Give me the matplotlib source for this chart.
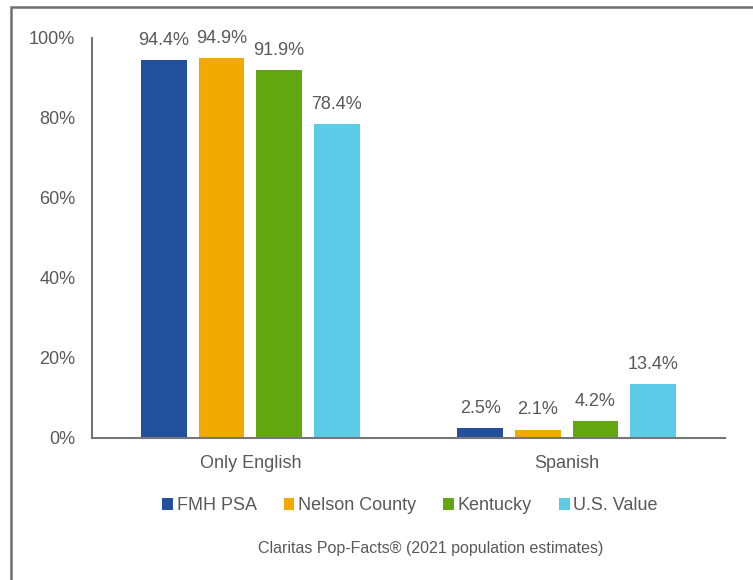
import numpy as np
import matplotlib.pyplot as plt
from matplotlib.patches import Rectangle

plt.rcParams['font.family'] = ['Liberation Sans', 'DejaVu Sans']

categories = ['Only English', 'Spanish']
series = ['FMH PSA', 'Nelson County', 'Kentucky', 'U.S. Value']
values = [
    [94.4, 2.5],
    [94.9, 2.1],
    [91.9, 4.2],
    [78.4, 13.4],
]
colors = ['#23509b', '#f2a900', '#62a70f', '#5bcbe8']
text_color = '#595959'

fig = plt.figure(figsize=(7.53, 5.80), dpi=100)
ax = fig.add_axes([92 / 753, 1 - 438 / 580, (725 - 92) / 753, 400 / 580])

x = np.arange(len(categories))
width = 0.145
step = 0.182
for i, (name, vals, c) in enumerate(zip(series, values, colors)):
    pos = x + (i - 1.5) * step
    bars = ax.bar(pos, np.array(vals) / 100, width, color=c, label=name)
    for b, v in zip(bars, vals):
        ax.text(b.get_x() + b.get_width() / 2, v / 100 + 0.028, f'{v:.1f}%',
                ha='center', va='bottom', fontsize=13, color=text_color)

ax.set_xlim(-0.5, 1.5)
ax.set_ylim(0, 1)
ax.set_yticks(np.arange(0, 1.01, 0.2))
ax.set_yticklabels([f'{int(round(t * 100))}%' for t in np.arange(0, 1.01, 0.2)])
ax.set_xticks(x)
ax.set_xticklabels(categories)
ax.tick_params(axis='both', length=0, labelsize=13, colors=text_color)
ax.tick_params(axis='y', pad=12)
ax.tick_params(axis='x', pad=12)
for s in ['top', 'right']:
    ax.spines[s].set_visible(False)
for s in ['left', 'bottom']:
    ax.spines[s].set_color('#767676')
    ax.spines[s].set_linewidth(1.5)

fig.legend(loc='center', bbox_to_anchor=(410 / 753, 1 - 506 / 580), ncol=4,
           frameon=False, fontsize=13, labelcolor=text_color,
           handlelength=0.6, handleheight=0.6, handletextpad=0.2,
           columnspacing=1.5)

fig.text(431 / 753, 1 - 548 / 580, 'Claritas Pop-Facts® (2021 population estimates)',
         ha='center', va='center', fontsize=11.5, color=text_color)

# outer frame
fig.patches.append(Rectangle((10.5 / 753, -0.05), 1.0, 1 - 6.5 / 580 + 0.05,
                             transform=fig.transFigure, fill=False,
                             edgecolor='#6e6e6e', linewidth=1.8))

fig.savefig('out.png', dpi=100)
